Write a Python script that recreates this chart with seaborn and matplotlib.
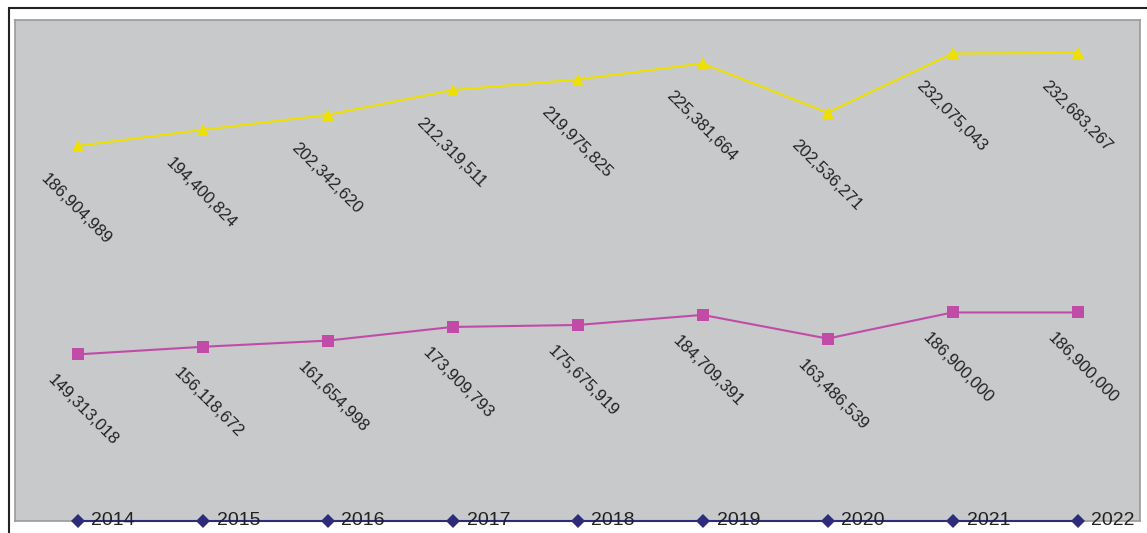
import numpy as np
import pandas as pd
import matplotlib
matplotlib.use("Agg")
import matplotlib.pyplot as plt
import seaborn as sns
from matplotlib.patches import Rectangle

years = [2014, 2015, 2016, 2017, 2018, 2019, 2020, 2021, 2022]
series_a = [149313018, 156118672, 161654998, 173909793, 175675919,
            184709391, 163486539, 186900000, 186900000]
series_b = [186904989, 194400824, 202342620, 212319511, 219975825,
            225381664, 202536271, 232075043, 232683267]

sns.set_theme(style="white")
plt.rcParams['font.family'] = ['Liberation Sans', 'DejaVu Sans']

fig = plt.figure(figsize=(11.47, 5.33), dpi=100)
W, H = 1147, 533
ax = fig.add_axes([15 / W, 12 / H, (1140 - 15) / W, (521 - 20) / H])
ax.set_facecolor('#C8C9CB')
for s in ax.spines.values():
    s.set_color('#9A9A9A')
    s.set_linewidth(1.2)

# outer chart border
fig.patches.append(Rectangle((9 / W, -0.1), 1.2, (533 - 8) / H + 0.1,
                             transform=fig.transFigure, fill=False,
                             edgecolor='#222222', linewidth=1.5, zorder=0))

idx = np.arange(len(years))
base = np.array(years, dtype=float)
lvl_a = base + np.array(series_a, dtype=float)
lvl_b = lvl_a + np.array(series_b, dtype=float)

df = pd.DataFrame({'x': idx, 'yr': base, 'a': lvl_a, 'b': lvl_b})

sns.lineplot(data=df, x='x', y='yr', ax=ax, color='#2C2C7A', marker='D',
             markersize=7.5, markeredgewidth=0, linewidth=1.5, clip_on=False, zorder=5)
sns.lineplot(data=df, x='x', y='a', ax=ax, color='#C04CA8', marker='s',
             markersize=8, markeredgewidth=0, linewidth=1.5)
sns.lineplot(data=df, x='x', y='b', ax=ax, color='#EEE000', marker='^',
             markersize=9, markeredgewidth=0, linewidth=1.5)

ax.set_xlim(-0.5, 8.5)
ax.set_ylim(0, 449e6)
ax.set_xticks([])
ax.set_yticks([])
ax.set_xlabel('')
ax.set_ylabel('')

for i in idx:
    ax.annotate(f"{series_b[i]:,}", (i, lvl_b[i]), xytext=(-1, -63),
                textcoords='offset pixels', rotation=-45, ha='center',
                va='center', fontsize=12, color='#222222', rotation_mode='anchor')
    ax.annotate(f"{series_a[i]:,}", (i, lvl_a[i]), xytext=(6, -56),
                textcoords='offset pixels', rotation=-45, ha='center',
                va='center', fontsize=12, color='#222222', rotation_mode='anchor')
    ax.annotate(str(years[i]), (i, base[i]), xytext=(14, 0),
                textcoords='offset pixels', ha='left', va='center',
                fontsize=14, color='#222222', annotation_clip=False, zorder=6)

fig.savefig('out.png', dpi=100)
